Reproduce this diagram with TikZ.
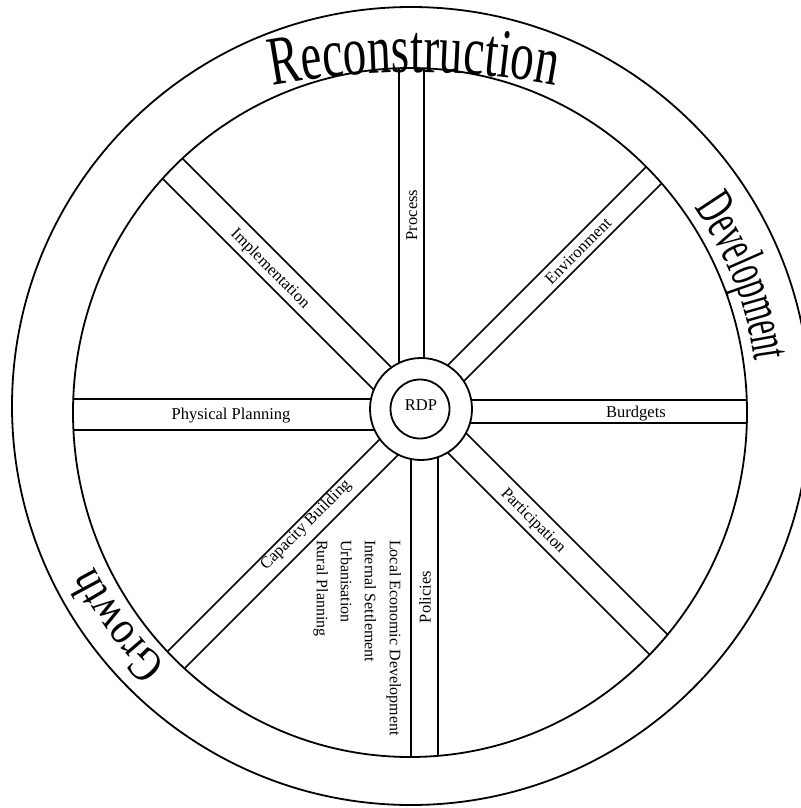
\documentclass[tikz,border=0pt]{standalone}
\usepackage{fontspec}
\setmainfont{Liberation Serif}
% #1 cx, #2 cy, #3 radius, #4 centre angle, #5 font size, #6 yscale, #7 name prefix, #8 letter/width list
\newcommand\arcword[8]{%
  \gdef\totw{0}%
  \foreach \ch/\cw in {#8}{%
    \pgfmathsetmacro\tmpw{\totw+\cw/1000*#5}%
    \xdef\totw{\tmpw}%
  }%
  \pgfmathsetmacro\tmpa{#4+\totw/#3*90/pi}%
  \xdef\curang{\tmpa}%
  \foreach \ch/\cw [count=\ci] in {#8}{%
    \pgfmathsetmacro\dang{\cw/1000*#5/#3*180/pi}%
    \pgfmathsetmacro\cang{\curang-\dang/2}%
    \pgfmathsetmacro\rot{\cang-90}%
    \node[anchor=base, inner sep=0pt, rotate=\rot, yscale=#6, font={\fontsize{#5}{#5}\selectfont}] (#7\ci) at ({#1+#3*cos(\cang)},{#2-#3*sin(\cang)}) {\ch};%
    \pgfmathsetmacro\tmpa{\curang-\dang}%
    \xdef\curang{\tmpa}%
  }%
}
\begin{document}
\begin{tikzpicture}[x=1pt,y=-1pt,
  rim/.style={line width=1.8pt},
  spoke/.style={line width=1.5pt},
  lbl/.style={font=\fontsize{16.5}{18}\selectfont, inner sep=0pt, text height=11pt, text depth=0pt},
  lst/.style={font=\fontsize{16}{18}\selectfont, inner sep=0pt, text height=10.5pt, text depth=0pt, rotate=-90, anchor=west}]
\useasboundingbox (0,0) rectangle (800,808);
\fill[white] (0,0) rectangle (800,808);
% outer ring
\draw[rim] (411,406) circle[radius=399];
% spokes, clipped to the inner rim
\begin{scope}
\clip (410,412.5) ellipse[x radius=337, y radius=344.5];
\draw[spoke] (399,409) -- (399,0);
\draw[spoke] (424,409) -- (424,0);
\draw[spoke] (411,409) -- (411,808);
\draw[spoke] (438,409) -- (438,808);
\draw[spoke] (421,399) -- (0,399);
\draw[spoke] (421,430) -- (0,430);
\draw[spoke] (421,400) -- (800,400);
\draw[spoke] (421,423) -- (800,423);
\draw[spoke] (421,397) -- (50,26);
\draw[spoke] (410,426) -- (50,66);
\draw[spoke] (421,392) -- (800,13);
\draw[spoke] (421,424) -- (800,45);
\draw[spoke] (421,398) -- (40,779);
\draw[spoke] (421,432) -- (40,813);
\draw[spoke] (421,388) -- (800,767);
\draw[spoke] (421,426) -- (800,805);
\end{scope}
\draw[rim] (410,412.5) ellipse[x radius=337, y radius=344.5];
% hub
\draw[rim, fill=white] (421,409) circle[radius=51];
\draw[rim] (420,409) circle[radius=29.5];
\node[lbl] (rdp) at (421,405) {RDP};
% spoke labels
\node[lbl] (pp) at (231,414) {Physical Planning};
\node[lbl] (bu) at (636,411.5) {Burdgets};
\node[lbl, rotate=90] (pr) at (411.5,215) {Process};
\node[lbl, rotate=-45] (im) at (271,268) {Implementation};
\node[lbl, rotate=45] (en) at (578,251) {Environment};
\node[lbl, rotate=45] (cb) at (305,524) {Capacity Building};
\node[lbl, rotate=-45] (pa) at (534,520) {Participation};
\node[lbl, rotate=90] (po) at (425,597) {Policies};
% list
\node[lst] (l1) at (395,540) {Local Economic Development};
\node[lst] (l2) at (370,540) {Internal Settlement};
\node[lst] (l3) at (346,540) {Urbanisation};
\node[lst] (l4) at (322,540) {Rural Planning};
% curved words
\arcword{414}{833}{761}{90}{47}{1.48}{rc}{R/667,e/444,c/444,o/500,n/500,s/389,t/278,r/333,u/500,c/444,t/278,i/278,o/500,n/500}
\arcword{411}{408}{347}{21.5}{31}{1.8}{dv}{D/722,e/444,v/500,e/444,l/278,o/500,p/500,m/778,e/444,n/500,t/278}
\arcword{411}{408}{354}{216.5}{40}{1.2}{gr}{G/722,r/333,o/500,w/722,t/278,h/500}
\end{tikzpicture}
\end{document}
